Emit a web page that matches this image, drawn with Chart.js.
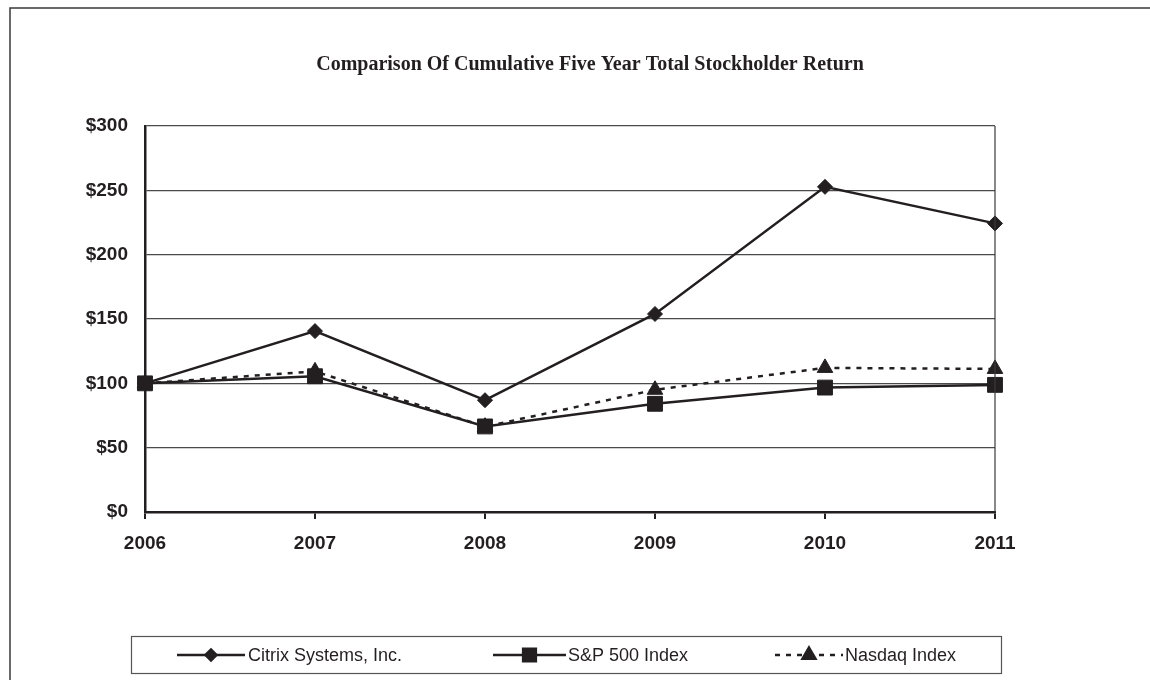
<!DOCTYPE html>
<html>
<head>
<meta charset="utf-8">
<script src="https://cdn.jsdelivr.net/npm/chart.js@4.4.1/dist/chart.umd.min.js"></script>
<style>
  html, body { margin: 0; padding: 0; background: #ffffff; }
  #wrap { position: relative; width: 1150px; height: 680px; }
</style>
</head>
<body>
<div id="wrap"><canvas id="c" width="1150" height="680"></canvas></div>
<script>
const years = ['2006', '2007', '2008', '2009', '2010', '2011'];
const citrix = [100, 140.6, 86.9, 153.9, 252.7, 224.3];
const sp500 = [100, 105.5, 66.5, 84.1, 96.7, 98.8];
const nasdaq = [100, 109.3, 66.3, 95.0, 112.0, 111.2];
const yTicks = [0, 50, 100, 150, 200, 250, 300];
const seriesNames = ['Citrix Systems, Inc.', 'S&P 500 Index', 'Nasdaq Index'];
const titleText = 'Comparison Of Cumulative Five Year Total Stockholder Return';

const INK = '#231f20';

const framePlugin = {
  id: 'frame',
  beforeDraw(chart) {
    const ctx = chart.ctx;
    ctx.save();
    ctx.fillStyle = '#ffffff';
    ctx.fillRect(0, 0, chart.width, chart.height);
    ctx.strokeStyle = '#3a3a3a';
    ctx.lineWidth = 1.5;
    ctx.beginPath();
    ctx.moveTo(10, chart.height + 5);
    ctx.lineTo(10, 8);
    ctx.lineTo(chart.width + 5, 8);
    ctx.stroke();
    // chart title
    ctx.fillStyle = INK;
    ctx.font = 'bold 20px "Liberation Serif", "Times New Roman", serif';
    ctx.textAlign = 'center';
    ctx.textBaseline = 'alphabetic';
    ctx.fillText(chart.options.plugins.frame.title, 590, 70);
    ctx.restore();
  },
  afterDatasetsDraw(chart) {
    const ctx = chart.ctx;
    const a = chart.chartArea;
    ctx.save();
    ctx.strokeStyle = '#3a3a3a';
    ctx.lineWidth = 1.2;
    ctx.beginPath();
    ctx.moveTo(a.right, a.top);
    ctx.lineTo(a.right, a.bottom);
    ctx.stroke();
    ctx.restore();
  },
  afterDraw(chart) {
    // legend box drawn from dataset styles
    const ctx = chart.ctx;
    const box = { x: 131.5, y: 636.5, w: 870, h: 37 };
    ctx.save();
    ctx.strokeStyle = '#555555';
    ctx.lineWidth = 1.2;
    ctx.strokeRect(box.x, box.y, box.w, box.h);
    const cy = box.y + box.h / 2;
    const items = [
      { x0: 177, x1: 245, tx: 248 },
      { x0: 493, x1: 566, tx: 568 },
      { x0: 775, x1: 843, tx: 845 }
    ];
    const markerR = [5.5, 9, 7.5];
    chart.data.datasets.forEach((ds, i) => {
      const it = items[i];
      ctx.strokeStyle = ds.borderColor;
      ctx.lineWidth = ds.borderWidth;
      ctx.setLineDash(ds.borderDash || []);
      ctx.beginPath();
      ctx.moveTo(it.x0, cy);
      ctx.lineTo(it.x1, cy);
      ctx.stroke();
      ctx.setLineDash([]);
      ctx.fillStyle = ds.pointBackgroundColor;
      ctx.strokeStyle = ds.pointBorderColor;
      Chart.helpers.drawPoint(ctx, { pointStyle: ds.pointStyle, radius: markerR[i], borderWidth: 1, rotation: 0 }, (it.x0 + it.x1) / 2, cy);
      ctx.fillStyle = INK;
      ctx.font = '18px "Liberation Sans", Arial, sans-serif';
      ctx.textAlign = 'left';
      ctx.textBaseline = 'middle';
      ctx.fillText(ds.label, it.tx, cy + 1);
    });
    ctx.restore();
  }
};

const mk = (label, data, style, radius, dash) => ({
  label,
  data,
  borderColor: INK,
  backgroundColor: INK,
  borderWidth: 2.5,
  borderDash: dash,
  pointStyle: style,
  pointRadius: radius,
  pointHoverRadius: radius,
  pointBackgroundColor: INK,
  pointBorderColor: INK,
  pointBorderWidth: 1,
  tension: 0,
  fill: false
});

new Chart(document.getElementById('c'), {
  type: 'line',
  data: {
    labels: years,
    datasets: [
      mk(seriesNames[0], citrix, 'rectRot', 7.5, []),
      mk(seriesNames[1], sp500, 'rect', 10.5, []),
      mk(seriesNames[2], nasdaq, 'triangle', 9, [5, 6])
    ]
  },
  options: {
    responsive: false,
    animation: false,
    devicePixelRatio: 1,
    layout: { padding: { left: 0, right: 155, top: 126, bottom: 0 } },
    plugins: {
      frame: { title: titleText },
      legend: { display: false },
      tooltip: { enabled: false },
      title: { display: false }
    },
    scales: {
      x: {
        type: 'category',
        offset: false,
        grid: { display: true, drawOnChartArea: false, drawTicks: true, tickLength: 7, color: INK, lineWidth: 2 },
        border: { display: true, color: INK, width: 2.5 },
        ticks: {
          color: INK,
          padding: 13,
          maxRotation: 0,
          font: { family: '"Liberation Sans", Arial, sans-serif', size: 19, weight: 'bold' }
        },
        afterFit(scale) { scale.height = 168; }
      },
      y: {
        min: 0,
        max: 300,
        afterBuildTicks(scale) { scale.ticks = yTicks.map(v => ({ value: v })); },
        grid: { display: true, drawTicks: false, color: '#4a4a4a', lineWidth: 1.2 },
        border: { display: true, color: INK, width: 2.5 },
        ticks: {
          color: INK,
          padding: 17,
          font: { family: '"Liberation Sans", Arial, sans-serif', size: 19, weight: 'bold' },
          callback: (v) => '$' + v
        },
        afterFit(scale) { scale.width = 145; }
      }
    }
  },
  plugins: [framePlugin]
});
</script>
</body>
</html>
